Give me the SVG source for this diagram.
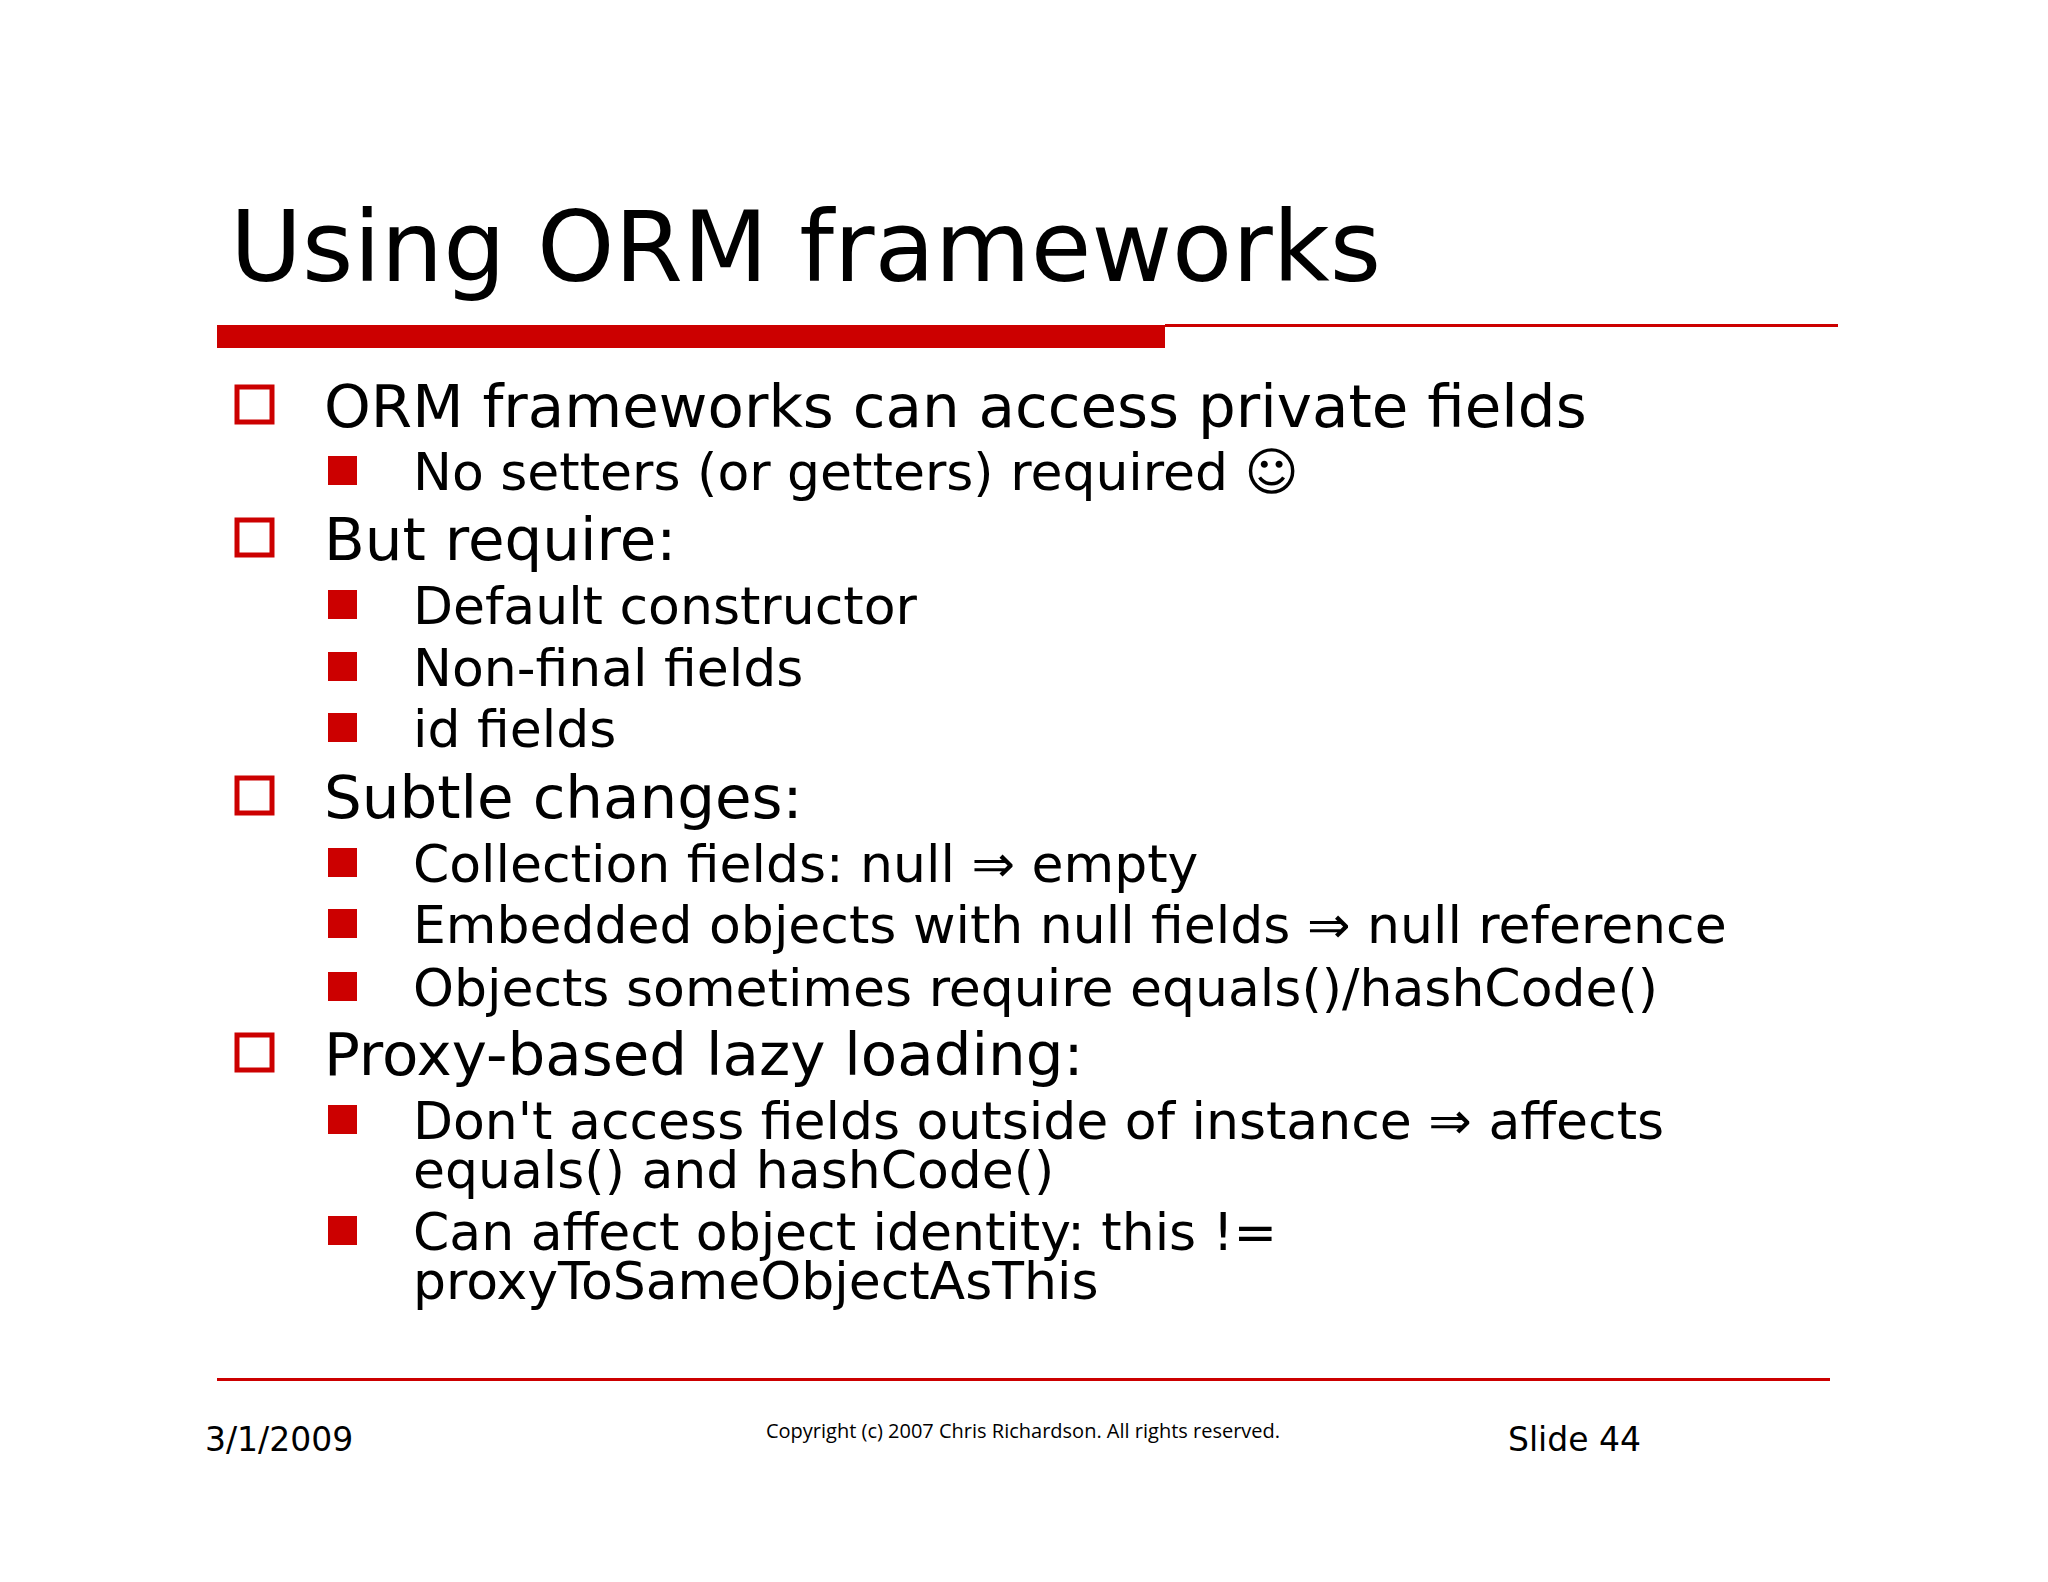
<svg xmlns="http://www.w3.org/2000/svg" width="2048" height="1582" viewBox="0 0 2048 1582">
<style>
text{font-family:"DejaVu Sans","Liberation Sans",sans-serif;fill:#000}
.t1{font-size:59.5px}.t2{font-size:52px}
.b1{fill:none;stroke:#CC0000;stroke-width:5}
.b2{fill:#CC0000}
.ft{font-size:33px}
</style>
<rect width="2048" height="1582" fill="#fff"/>
<g id="title"><text x="230" y="281" style="font-size:98.5px">Using ORM frameworks</text>
<rect x="217" y="325" width="948" height="23" fill="#CC0000"/>
<rect x="1165" y="324" width="673" height="3" fill="#CC0000"/></g>
<g id="bullets">
<rect class="b1" x="237" y="387" width="35" height="35"/><text class="t1" x="324" y="427">ORM frameworks can access private fields</text>
<rect class="b2" x="328" y="456" width="29" height="29"/><text class="t2" x="413" y="490">No setters (or getters) required ☺</text>
<rect class="b1" x="237" y="520" width="35" height="35"/><text class="t1" x="324" y="560">But require:</text>
<rect class="b2" x="328" y="590" width="29" height="29"/><text class="t2" x="413" y="624">Default constructor</text>
<rect class="b2" x="328" y="652" width="29" height="29"/><text class="t2" x="413" y="686">Non-final fields</text>
<rect class="b2" x="328" y="713" width="29" height="29"/><text class="t2" x="413" y="747">id fields</text>
<rect class="b1" x="237" y="778" width="35" height="35"/><text class="t1" x="324" y="818">Subtle changes:</text>
<rect class="b2" x="328" y="848" width="29" height="29"/><text class="t2" x="413" y="882">Collection fields: null ⇒ empty</text>
<rect class="b2" x="328" y="909" width="29" height="29"/><text class="t2" x="413" y="943">Embedded objects with null fields ⇒ null reference</text>
<rect class="b2" x="328" y="972" width="29" height="29"/><text class="t2" x="413" y="1006">Objects sometimes require equals()/hashCode()</text>
<rect class="b1" x="237" y="1035" width="35" height="35"/><text class="t1" x="324" y="1075">Proxy-based lazy loading:</text>
<rect class="b2" x="328" y="1105" width="29" height="29"/><text class="t2" x="413" y="1139">Don't access fields outside of instance ⇒ affects</text>
<text class="t2" x="413" y="1188">equals() and hashCode()</text>
<rect class="b2" x="328" y="1216" width="29" height="29"/><text class="t2" x="413" y="1250">Can affect object identity: this !=</text>
<text class="t2" x="413" y="1299">proxyToSameObjectAsThis</text>
</g>
<g id="footer">
<rect x="217" y="1378" width="1613" height="3" fill="#CC0000"/>
<text class="ft" x="205" y="1451">3/1/2009</text>
<text x="1023" y="1438" text-anchor="middle" style="font-size:20px;font-family:'Open Sans','DejaVu Sans',sans-serif">Copyright (c)  2007 Chris Richardson. All rights reserved.</text>
<text class="ft" x="1508" y="1451">Slide 44</text>
</g>
</svg>
